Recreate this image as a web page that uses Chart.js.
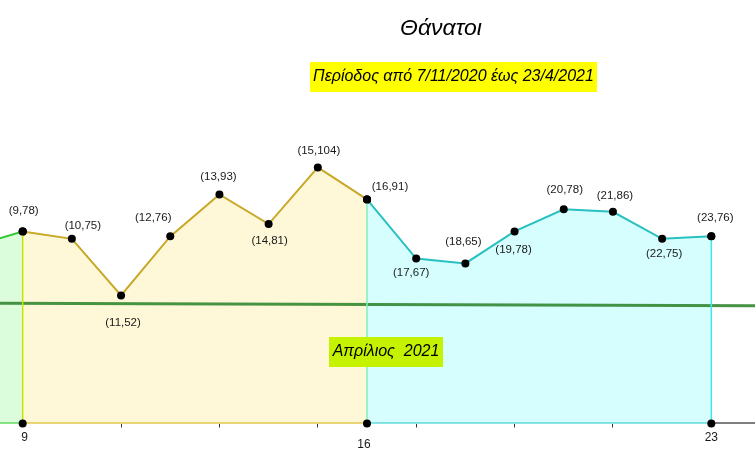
<!DOCTYPE html>
<html>
<head>
<meta charset="utf-8">
<script src="https://cdn.jsdelivr.net/npm/chart.js@4/dist/chart.umd.min.js"></script>
<style>
  html, body { margin: 0; padding: 0; background: #fff; }
</style>
</head>
<body>
<canvas id="toile-thanatoi" width="755" height="470"></canvas>
<script>
// data
const days = [8, 9, 10, 11, 12, 13, 14, 15, 16, 17, 18, 19, 20, 21, 22, 23]
const deaths = [72, 78, 75, 52, 76, 93, 81, 104, 91, 67, 65, 78, 87, 86, 75, 76]
// texts as printed next to the points (day 9 .. 23)
const pointTexts = ['(9,78)', '(10,75)', '(11,52)', '(12,76)', '(13,93)', '(14,81)', '(15,104)', '(16,91)',
  '(17,67)', '(18,65)', '(19,78)', '(20,78)', '(21,86)', '(22,75)', '(23,76)']
const tickDays = [9, 11, 13, 15, 16, 17, 19, 21, 23]
const labelDays = [9, 16, 23]
const segmentDays = [8, 9, 16, 23, 24]
const trendDays = [8, 24]
const trendValues = [48.9, 47.85]

const title = 'Θάνατοι'
const subtitle = 'Περίοδος από 7/11/2020 έως 23/4/2021'
const monthLabel = 'Απρίλιος  2021'

// styles
const font = '"Liberation Sans", Arial, sans-serif'
const segFills = ['rgb(220,253,220)', 'rgb(255,248,216)', 'rgb(214,254,254)']
const segLines = ['rgb(50,200,50)', 'rgb(200,168,40)', 'rgb(40,192,192)']
const baseColors = ['rgb(30,200,30)', 'rgb(212,176,0)', 'rgb(32,200,200)', '#000']
const vertColors = ['rgb(200,230,0)', 'rgb(128,240,192)', 'rgb(64,232,232)']
const labelOffsets = [[1, -21], [11, -13], [2, 27], [-17, -19], [-1, -18], [1, 17], [1, -17], [23, -13],
  [-5, 14], [-2, -22], [-1, 18], [1, -19], [2, -16], [2, 15], [4, -19]]
const tickLabelOffsets = [[2, 14], [-3, 21], [0, 14]]

const xMin = 8.539
const xMax = 23.888

const valueAt = (d) => deaths[days.indexOf(d)]
const between = (a, b) => days
  .map((d, i) => ({ x: d, y: deaths[i] }))
  .filter(p => p.x >= a && p.x <= b)

const datasets = []

// filled segments
for (let s = 0; s < 3; s++) {
  datasets.push({
    data: between(segmentDays[s], segmentDays[s + 1]),
    borderColor: segLines[s],
    backgroundColor: segFills[s],
    borderWidth: 2,
    fill: 'origin',
    pointRadius: 4,
    pointBackgroundColor: '#000',
    pointBorderWidth: 0,
    order: 10
  })
}

// trend line
datasets.push({
  data: trendDays.map((d, i) => ({ x: d, y: trendValues[i] })),
  borderColor: 'rgba(50,135,50,0.9)',
  borderWidth: 3,
  pointRadius: 0,
  fill: false,
  order: 6
})

// vertical separators
labelDays.forEach((d, i) => {
  datasets.push({
    data: [{ x: d, y: 0 }, { x: d, y: valueAt(d) }],
    borderColor: vertColors[i],
    borderWidth: 1.5,
    pointRadius: 0,
    fill: false,
    order: 4
  })
})

// coloured base line
for (let s = 0; s < 4; s++) {
  datasets.push({
    data: [{ x: segmentDays[s], y: 0 }, { x: segmentDays[s + 1], y: 0 }],
    borderColor: baseColors[s],
    borderWidth: 2,
    pointRadius: 0,
    fill: false,
    order: 3
  })
}

// dots at both ends of the separators
datasets.push({
  data: labelDays.map(d => ({ x: d, y: 0 })).concat(labelDays.map(d => ({ x: d, y: valueAt(d) }))),
  showLine: false,
  pointRadius: 4,
  pointBackgroundColor: '#000',
  pointBorderWidth: 0,
  clip: false,
  order: 1
})

const textPlugin = {
  id: 'texts',
  afterDatasetsDraw(chart) {
    const c = chart.ctx
    const xs = chart.scales.x
    const ys = chart.scales.y
    c.save()
    c.textAlign = 'center'
    c.textBaseline = 'middle'

    // point labels
    c.fillStyle = '#1a1a1a'
    c.font = '11.5px ' + font
    pointTexts.forEach((t, i) => {
      const d = days[i + 1]
      const px = xs.getPixelForValue(d) + labelOffsets[i][0]
      const py = ys.getPixelForValue(deaths[i + 1]) + labelOffsets[i][1]
      c.fillText(t, px, py)
    })

    // x tick labels
    c.font = '12px ' + font
    labelDays.forEach((d, i) => {
      c.fillText(String(d), xs.getPixelForValue(d) + tickLabelOffsets[i][0], chart.chartArea.bottom + tickLabelOffsets[i][1])
    })

    // title
    c.fillStyle = '#000'
    c.font = 'italic 23px ' + font
    c.fillText(title, 441, 29)

    // subtitle box
    c.fillStyle = '#ffff00'
    c.fillRect(310, 62, 287, 30)
    c.fillStyle = '#000'
    c.font = 'italic 16px ' + font
    c.fillText(subtitle, 453.5, 77)

    // month box
    c.fillStyle = 'rgb(196,242,0)'
    c.fillRect(329, 337, 114, 30)
    c.fillStyle = '#000'
    c.fillText(monthLabel, 386, 352)
    c.restore()
  }
}

const config = {
  type: 'line',
  data: { datasets: datasets },
  options: {
    responsive: false,
    animation: false,
    layout: { padding: 0, autoPadding: false },
    plugins: {
      legend: { display: false },
      tooltip: { enabled: false },
      title: { display: false }
    },
    scales: {
      x: {
        type: 'linear',
        min: xMin,
        max: xMax,
        afterBuildTicks: (scale) => { scale.ticks = tickDays.map(v => ({ value: v })) },
        afterFit: (scale) => { scale.height = 46.5 },
        border: { display: false },
        grid: {
          drawOnChartArea: false,
          drawTicks: true,
          tickLength: 4,
          color: (ctx) => labelDays.includes(ctx.tick && ctx.tick.value) ? 'rgba(0,0,0,0)' : '#333'
        },
        ticks: { display: false }
      },
      y: {
        display: false,
        min: 0,
        max: 172
      }
    }
  },
  plugins: [textPlugin]
}

new Chart(document.getElementById('toile-thanatoi'), config)
</script>
</body>
</html>
